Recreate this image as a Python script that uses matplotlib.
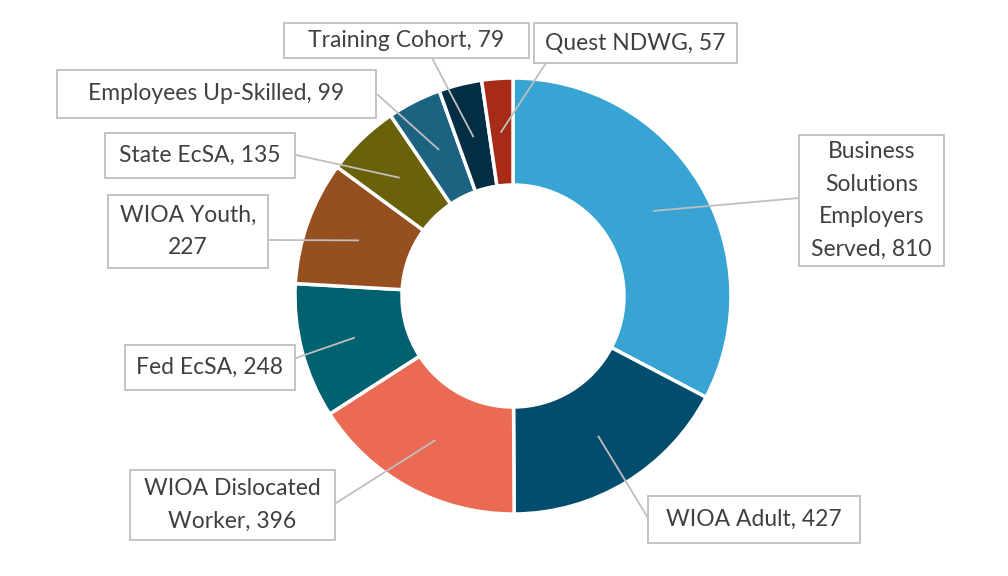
import matplotlib
matplotlib.use("Agg")
import matplotlib.pyplot as plt
from matplotlib.patches import Rectangle
import numpy as np

W, H = 1008, 576

# данные
names = ["Business\nSolutions\nEmployers\nServed", "WIOA Adult", "WIOA Dislocated\nWorker",
         "Fed EcSA", "WIOA Youth", "State EcSA", "Employees Up-Skilled",
         "Training Cohort", "Quest NDWG"]
seps = [", ", ", ", ", ", ", ", ",\n", ", ", ", ", ", ", ", "]
values = [810, 427, 396, 248, 227, 135, 99, 79, 57]
colors = ["#38A4D4", "#024C6D", "#EB6A53", "#01616F", "#964F1F",
          "#6A620A", "#1C6281", "#022D43", "#A72B17"]

# рамки подписей (x0, y0, x1, y1) в пикселях сверху, и начало выноски
boxes = [(799, 135, 944, 266), (648, 496, 860, 543), (130, 470, 335, 540),
         (125, 345, 295, 390), (108, 195, 268, 268), (105, 133, 295, 178),
         (57, 70, 376, 118), (284, 23, 529, 58), (534, 23, 737, 63)]
anchors = [(799, 198), (648, 518), (336, 503), (296, 358), (268, 240),
           (296, 155), (378, 95), (432, 58), (546, 63)]

cx, cy, R = 513, H - 296, 218
ring = 107

plt.rcParams['font.family'] = ['Lato', 'DejaVu Sans']
fig = plt.figure(figsize=(W / 100, H / 100), dpi=100)
ax = fig.add_axes([0, 0, 1, 1])

wedges, _ = ax.pie(values, colors=colors, startangle=90, counterclock=False,
                   center=(cx, cy), radius=R,
                   wedgeprops=dict(width=ring, edgecolor='white', linewidth=2.5))
ax.set_xlim(0, W)
ax.set_ylim(0, H)
ax.set_aspect('equal')
ax.axis('off')

for w, name, sep, v, b, a in zip(wedges, names, seps, values, boxes, anchors):
    mid = np.deg2rad((w.theta1 + w.theta2) / 2)
    r = R - ring / 2
    px, py = cx + r * np.cos(mid), cy + r * np.sin(mid)
    ax.plot([a[0], px], [H - a[1], py], color='#BFBFBF', lw=1.3, zorder=3)
    x0, y0, x1, y1 = b
    ax.add_patch(Rectangle((x0, H - y1), x1 - x0, y1 - y0, facecolor='white',
                           edgecolor='#BFBFBF', lw=1.3, zorder=4))
    ax.text((x0 + x1) / 2, H - (y0 + y1) / 2, name + sep + str(v), ha='center', va='center',
            fontsize=16.5, color='#404040', linespacing=1.67, zorder=5)

fig.savefig("out.png", dpi=100)
